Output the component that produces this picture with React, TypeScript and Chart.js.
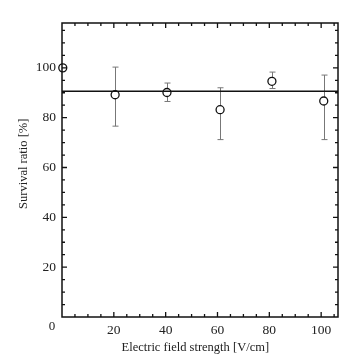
import React, { useEffect, useRef } from "react";
import { Chart, registerables } from "chart.js";

Chart.register(...registerables);

const fieldStrength = [0.3, 20.5, 40.5, 61, 81, 101];
const survival = [100, 89.2, 90.1, 83.2, 94.6, 86.7];
const errUpper: (number | null)[] = [null, 100.3, 93.9, 92.0, 98.3, 97.1];
const errLower: (number | null)[] = [null, 76.6, 86.5, 71.2, 91.7, 71.2];
const meanLine = 90.6;
const xTicks = [20, 40, 60, 80, 100];
const yTicks = [20, 40, 60, 80, 100];
const X_MAX = 106.5;
const Y_MAX = 118;

const FONT = "'Liberation Serif', 'Times New Roman', serif";

const framePlugin = {
  id: "frame",
  beforeDatasetsDraw(chart: any) {
    const ctx = chart.ctx;
    const xs = chart.scales.x;
    const ys = chart.scales.y;
    ctx.save();
    ctx.strokeStyle = "#777";
    ctx.lineWidth = 1;
    for (let i = 0; i < fieldStrength.length; i++) {
      const up = errUpper[i];
      const lo = errLower[i];
      if (up == null || lo == null) continue;
      const px = Math.round(xs.getPixelForValue(fieldStrength[i])) + 0.5;
      const pu = ys.getPixelForValue(up);
      const pl = ys.getPixelForValue(lo);
      ctx.beginPath();
      ctx.moveTo(px, pu);
      ctx.lineTo(px, pl);
      ctx.moveTo(px - 3, pu);
      ctx.lineTo(px + 3, pu);
      ctx.moveTo(px - 3, pl);
      ctx.lineTo(px + 3, pl);
      ctx.stroke();
    }
    ctx.restore();
  },
  afterDraw(chart: any) {
    const ctx = chart.ctx;
    const { left, right, top, bottom } = chart.chartArea;
    const xs = chart.scales.x;
    const ys = chart.scales.y;
    ctx.save();
    ctx.strokeStyle = "#111";
    ctx.lineWidth = 1.5;
    ctx.strokeRect(left, top, right - left, bottom - top);
    ctx.lineWidth = 1.3;
    ctx.beginPath();
    for (let v = 5; v < X_MAX; v += 5) {
      const len = v % 20 === 0 ? 5 : 3;
      const px = xs.getPixelForValue(v);
      ctx.moveTo(px, bottom);
      ctx.lineTo(px, bottom - len);
      ctx.moveTo(px, top);
      ctx.lineTo(px, top + len);
    }
    for (let v = 5; v < Y_MAX; v += 5) {
      const len = v % 20 === 0 ? 5 : 3;
      const py = ys.getPixelForValue(v);
      ctx.moveTo(left, py);
      ctx.lineTo(left + len, py);
      ctx.moveTo(right, py);
      ctx.lineTo(right - len, py);
    }
    ctx.stroke();
    ctx.fillStyle = "#222";
    ctx.font = `13px ${FONT}`;
    ctx.textAlign = "center";
    ctx.textBaseline = "middle";
    ctx.fillText("0", left - 10, bottom + 10);
    ctx.restore();
  },
};

export default function App() {
  const ref = useRef<HTMLCanvasElement>(null);
  useEffect(() => {
    document.body.style.margin = "0";
    const points = fieldStrength.map((x, i) => ({ x, y: survival[i] }));
    const chart = new Chart(ref.current!, {
      type: "scatter",
      data: {
        datasets: [
          {
            type: "line",
            data: [
              { x: 0, y: meanLine },
              { x: X_MAX, y: meanLine },
            ],
            borderColor: "#111",
            borderWidth: 1.5,
            pointRadius: 0,
            fill: false,
          } as any,
          {
            data: points,
            pointRadius: 4,
            pointBorderWidth: 1.3,
            pointBorderColor: "#111",
            pointBackgroundColor: "#fff",
            clip: false,
          } as any,
        ],
      },
      plugins: [framePlugin],
      options: {
        animation: false,
        responsive: false,
        layout: { padding: { top: 23, right: 22, left: 0, bottom: 0 } },
        plugins: { legend: { display: false }, tooltip: { enabled: false } },
        scales: {
          x: {
            type: "linear",
            min: 0,
            max: X_MAX,
            grid: { display: false, drawTicks: false },
            border: { display: false },
            afterBuildTicks: (s: any) => {
              s.ticks = xTicks.map((v) => ({ value: v }));
            },
            afterFit: (s: any) => {
              s.height = 47;
            },
            ticks: {
              color: "#222",
              padding: 5,
              maxRotation: 0,
              font: { family: FONT, size: 13.5 },
            },
            title: {
              display: true,
              text: "Electric field strength [V/cm]   ",
              color: "#222",
              font: { family: FONT, size: 12.5 },
              padding: { top: 0, bottom: 9 },
            },
          },
          y: {
            type: "linear",
            min: 0,
            max: Y_MAX,
            grid: { display: false, drawTicks: false },
            border: { display: false },
            afterBuildTicks: (s: any) => {
              s.ticks = yTicks.map((v) => ({ value: v }));
            },
            afterFit: (s: any) => {
              s.width = 62;
            },
            ticks: {
              color: "#222",
              padding: 6,
              font: { family: FONT, size: 13.5 },
            },
            title: {
              display: true,
              text: "    Survival ratio [%]",
              color: "#222",
              font: { family: FONT, size: 12.5 },
              padding: { top: 16, bottom: 0 },
            },
          },
        },
      },
    });
    return () => chart.destroy();
  }, []);
  return <canvas ref={ref} width={360} height={364} style={{ display: "block" }} />;
}
